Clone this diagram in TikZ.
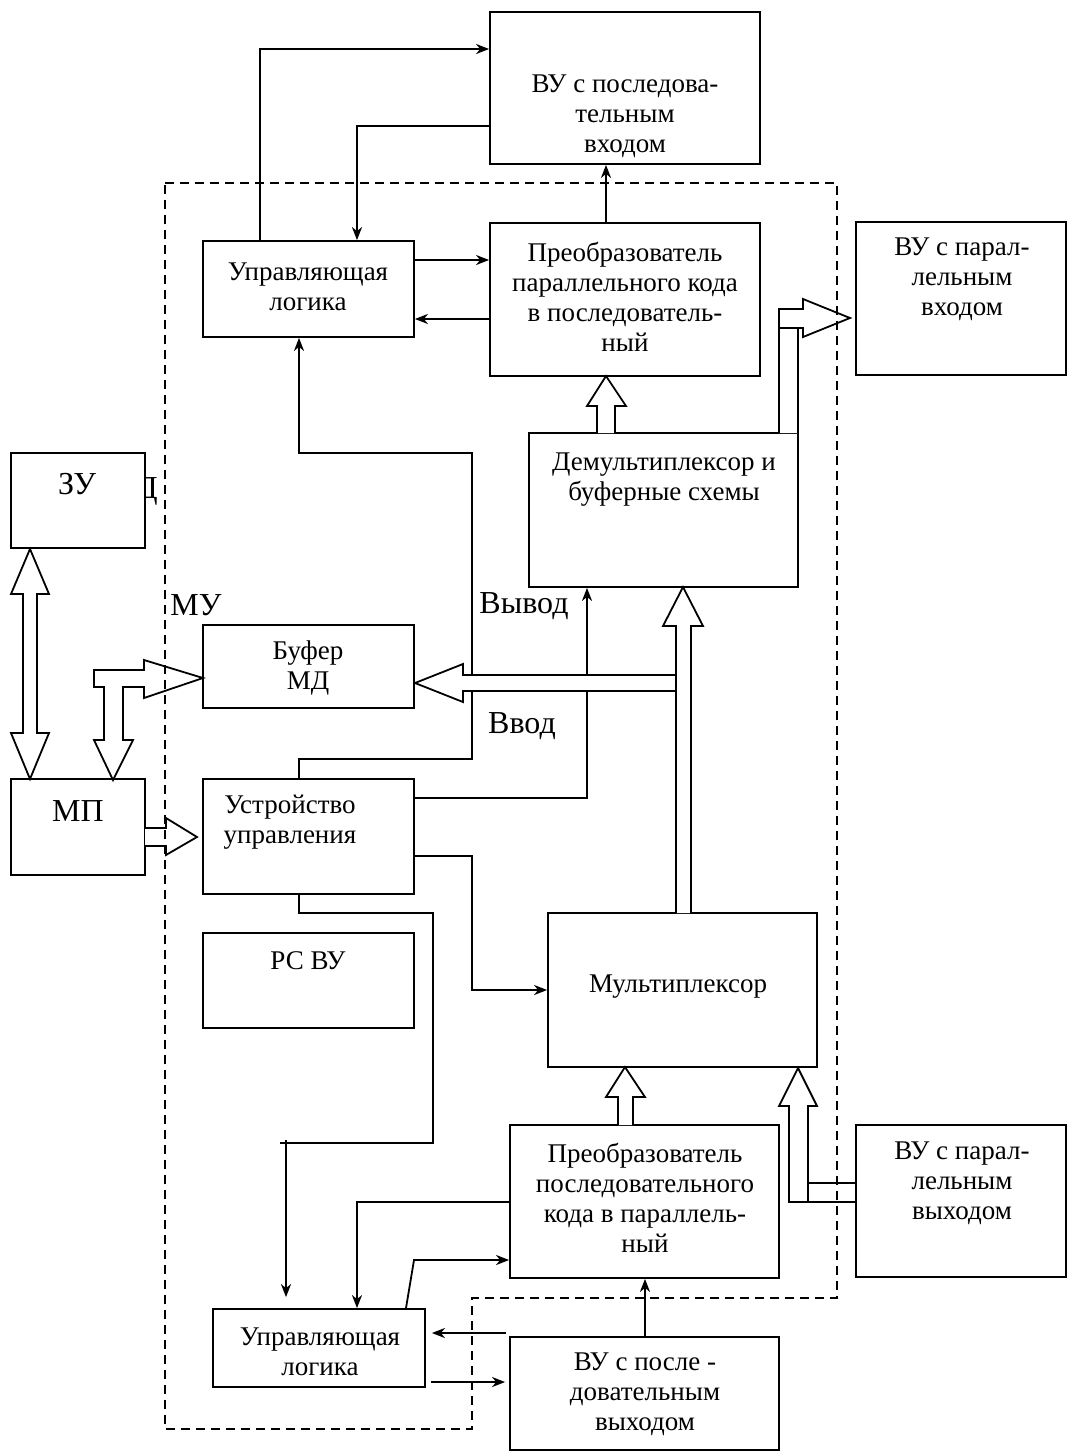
\documentclass[tikz,border=0pt]{standalone}
\usepackage{fontspec}
\setmainfont{Liberation Serif}
\usetikzlibrary{arrows.meta,fit}
\begin{document}
\begin{tikzpicture}[x=1pt,y=-1pt,
  box/.style={draw, line width=1.8pt, inner sep=0pt, fill=white},
  txt/.style={font=\fontsize{27}{30}\selectfont, align=center, inner sep=0pt},
  big/.style={font=\fontsize{32}{36}\selectfont, inner sep=0pt},
  wire/.style={line width=1.8pt},
  arr/.style={wire, -{Stealth[length=13pt,width=10pt,inset=4pt]}},
  bus/.style={line width=1.8pt, fill=white, line join=miter},
  border/.style={line width=1.6pt, dash pattern=on 9pt off 6pt}]
\useasboundingbox (0,0) rectangle (1069,1452);

% letter partly hidden behind the memory block
\node[big, anchor=base east] (dchar) at (158,498) {Д};

% blocks
\node[box, fit={(490,12) (760,164)}] (vuin) {};
\node[box, fit={(203,241) (414,337)}] (ctlA) {};
\node[box, fit={(490,223) (760,376)}] (p2s) {};
\node[box, fit={(856,222) (1066,375)}] (vupin) {};
\node[box, fit={(529,433) (798,587)}] (demux) {};
\node[box, fit={(11,453) (145,548)}] (zu) {};
\node[box, fit={(203,625) (414,708)}] (buf) {};
\node[box, fit={(11,779) (145,875)}] (mp) {};
\node[box, fit={(203,779) (414,894)}] (cu) {};
\node[box, fit={(548,913) (817,1067)}] (mux) {};
\node[box, fit={(203,933) (414,1028)}] (rs) {};
\node[box, fit={(510,1125) (779,1278)}] (s2p) {};
\node[box, fit={(856,1125) (1066,1277)}] (vupout) {};
\node[box, fit={(213,1309) (425,1387)}] (ctlB) {};
\node[box, fit={(510,1337) (779,1450)}] (vuout) {};

% block texts
\node[txt] (tvuin) at (625,116) {ВУ с последова-\\тельным\\входом};
\node[txt] (tctlA) at (308,287) {Управляющая\\логика};
\node[txt] (tp2s) at (625,297) {Преобразователь\\параллельного кода\\в последователь-\\ный};
\node[txt] (tvupin) at (962,279) {ВУ с парал-\\лельным\\входом};
\node[txt] (tdemux) at (664,480) {Демультиплексор и\\буферные схемы};
\node[big] (tzu) at (77,484) {ЗУ};
\node[txt] (tbuf) at (308,668) {Буфер\\МД};
\node[big] (tmp) at (78,811) {МП};
\node[txt] (tcu) at (290,822) {Устройство\\управления};
\node[txt] (tmux) at (678,987) {Мультиплексор};
\node[txt] (trs) at (308,961) {РС ВУ};
\node[txt] (ts2p) at (645,1198) {Преобразователь\\последовательного\\кода в параллель-\\ный};
\node[txt] (tvupout) at (962,1183) {ВУ с парал-\\лельным\\выходом};
\node[txt] (tctlB) at (320,1352) {Управляющая\\логика};
\node[txt] (tvuout) at (645,1394) {ВУ с после -\\довательным\\выходом};

% free labels
\node[big] (lmu) at (196,605) {МУ};
\node[big] (lout) at (524,606) {Вывод};
\node[big] (lin) at (522,726) {Ввод};

% control lines, upper part
\draw[arr] (ctlA.north -| 260,0) |- (vuin.west |- 0,49);
\draw[arr] (vuin.west |- 0,126) -| (ctlA.north -| 357,0);
\draw[arr] (p2s.north -| 606,0) -- (vuin.south -| 606,0);
\draw[arr] (ctlA.east |- 0,260) -- (p2s.west |- 0,260);
\draw[arr] (p2s.west |- 0,319) -- (ctlA.east |- 0,319);
\draw[arr] (cu.north -| 299,0) |- (472,759) |- (299,453) -- (ctlA.south -| 299,0);

% input / output strobe
\draw[arr] (cu.east |- 0,798) -| (demux.south -| 587,0);
% control unit to multiplexer
\draw[arr] (cu.east |- 0,856) -| (472,990) -- (mux.west |- 0,990);
% control unit to lower control logic
\draw[wire] (cu.south -| 299,0) |- (433,913) |- (280,1143);
\draw[arr, shorten >=11pt] (286,1140) -- (ctlB.north -| 286,0);

% control lines, lower part
\draw[arr] (s2p.west |- 0,1202) -| (ctlB.north -| 357,0);
\draw[arr] (ctlB.north -| 406,0) -- (414,1260) -- (s2p.west |- 0,1260);
\draw[arr, shorten <=3pt, shorten >=6pt] (vuout.west |- 0,1333) -- (ctlB.east |- 0,1333);
\draw[arr, shorten <=5pt, shorten >=4pt] (ctlB.east |- 0,1382) -- (vuout.west |- 0,1382);
\draw[arr] (vuout.north -| 645,0) -- (s2p.south -| 645,0);

% data buses
\filldraw[bus] (597,433) -- (597,406) -- (587,406) -- (606,376) -- (626,406) -- (615,406) -- (615,433);
\filldraw[bus] (779,433) -- (779,309) -- (803,309) -- (803,299) -- (850,318) -- (803,337) -- (803,328) -- (798,328) -- (798,433);
\draw[wire] (779,328) -- (798,328);
\filldraw[bus] (675,675) -- (463,675) -- (463,664) -- (415,683) -- (463,702) -- (463,691) -- (675,691);
\filldraw[bus] (676,913) -- (676,626) -- (663,626) -- (683,587) -- (703,626) -- (691,626) -- (691,913);
\filldraw[bus] (94,670) -- (144,670) -- (144,660) -- (203,678) -- (144,698) -- (144,687) -- (123,687) -- (123,740) -- (133,740) -- (113,780) -- (94,740) -- (104,740) -- (104,687) -- (94,687) -- cycle;
\filldraw[bus] (23,594) -- (11,594) -- (30,549) -- (49,594) -- (37,594) -- (37,733) -- (49,733) -- (30,779) -- (11,733) -- (23,733) -- cycle;
\filldraw[bus] (145,828) -- (166,828) -- (166,818) -- (197,837) -- (166,855) -- (166,846) -- (145,846);
\filldraw[bus] (618,1125) -- (618,1097) -- (606,1097) -- (625,1067) -- (645,1097) -- (633,1097) -- (633,1125);
\filldraw[bus] (856,1202) -- (789,1202) -- (789,1106) -- (779,1106) -- (798,1068) -- (817,1106) -- (808,1106) -- (808,1202);
\draw[wire] (808,1183) -- (856,1183);

% boundary of the interface module
\draw[border] (165,183) -- (837,183) -- (837,1298) -- (472,1298) -- (472,1429) -- (165,1429) -- cycle;
\end{tikzpicture}
\end{document}
